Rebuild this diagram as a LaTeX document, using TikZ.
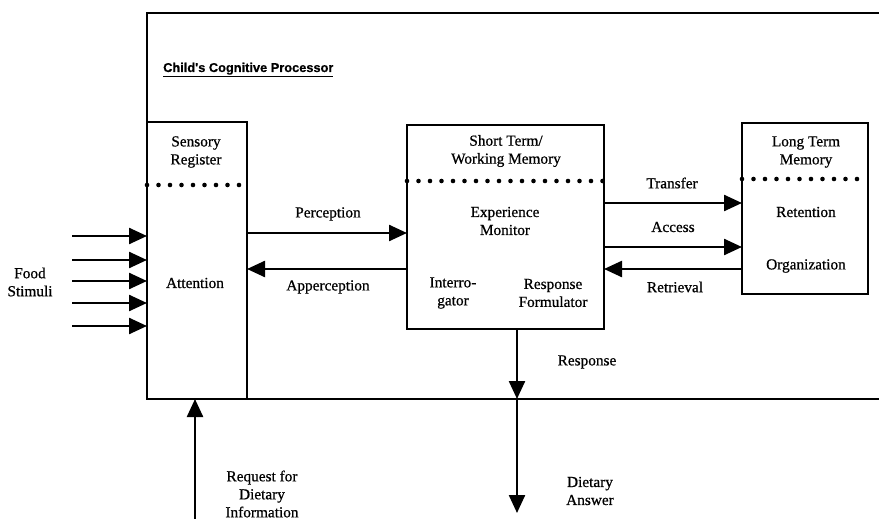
\documentclass[tikz,border=0pt]{standalone}
\usepackage{fontspec}
\setmainfont[FakeBold=0.7]{Liberation Serif}
\newfontfamily\titlefont[FakeBold=0.6]{Liberation Sans}
\usetikzlibrary{arrows.meta}
\begin{document}
\begin{tikzpicture}[x=1pt,y=-1pt,
  line width=2.4pt,
  arr/.style={-{Triangle[length=18pt,width=16pt]}},
  box/.style={draw,rectangle,inner sep=0pt,outer sep=0pt,anchor=north west},
  lbl/.style={font=\fontsize{15.3}{18}\selectfont,align=center,inner sep=0pt},
  dots/.style={line width=4.6pt,line cap=round,dash pattern=on 0pt off 11.5pt}]
\useasboundingbox (0,0) rectangle (879,519);
\clip (0,0) rectangle (879,519);
% outer processor frame (right side off the picture)
\coordinate (otr) at (890,13);
\coordinate (otl) at (147,13);
\coordinate (obl) at (147,399);
\coordinate (obr) at (890,399);
\draw (otr) -- (otl) -- (obl) -- (obr);
\node[anchor=base west,inner sep=0pt,font=\titlefont\bfseries\fontsize{12.8}{15}\selectfont] (title) at (162,72) {\underline{Child's Cognitive Processor}};
% boxes
\node[box,minimum width=100pt,minimum height=277pt] (sr) at (147,122) {};
\node[box,minimum width=197pt,minimum height=204pt] (stm) at (407,125) {};
\node[box,minimum width=126pt,minimum height=171pt] (ltm) at (742,123) {};
% dotted separators
\draw[dots] (sr.west |- 0,185) -- (sr.east |- 0,185);
\draw[dots] (stm.west |- 0,181) -- (stm.east |- 0,181);
\draw[dots] (ltm.west |- 0,179) -- (ltm.east |- 0,179);
% box texts
\node[lbl] (srt) at (196,152) {Sensory\\Register};
\node[lbl] (att) at (195,283) {Attention};
\node[lbl] (stmt) at (506,151) {Short Term/\\Working Memory};
\node[lbl] (exp) at (505,221) {Experience\\Monitor};
\node[lbl] (intg) at (453,293) {Interro-\\gator};
\node[lbl] (resf) at (553,293) {Response\\Formulator};
\node[lbl] (ltmt) at (806,152) {Long Term\\Memory};
\node[lbl] (ret) at (806,212) {Retention};
\node[lbl] (org) at (806,266) {Organization};
% food stimuli
\node[lbl] (food) at (30,282) {Food\\Stimuli};
\foreach \i/\y in {1/236,2/260,3/281,4/303,5/326}{
  \coordinate (f\i) at (72,\y);
  \draw[arr] (f\i) -- (f\i -| sr.west);
}
% perception / apperception
\draw[arr] (sr.east |- 0,233) -- (stm.west |- 0,233);
\draw[arr] (stm.west |- 0,269) -- (sr.east |- 0,269);
\node[lbl] (perc) at (328,214) {Perception};
\node[lbl] (appc) at (328,287) {Apperception};
% transfer / access / retrieval
\draw[arr] (stm.east |- 0,203) -- (ltm.west |- 0,203);
\draw[arr] (stm.east |- 0,247) -- (ltm.west |- 0,247);
\draw[arr] (ltm.west |- 0,269) -- (stm.east |- 0,269);
\node[lbl] (trans) at (672,183) {Transfer};
\node[lbl] (acc) at (673,227) {Access};
\node[lbl] (retr) at (675,287) {Retrieval};
% response
\draw[arr] (stm.south -| 517,0) -- (obl -| 517,0);
\node[lbl] (resp) at (587,362) {Response};
\coordinate (ans) at (517,513);
\draw[arr] (obl -| ans) -- (ans);
\node[lbl] (dans) at (590,491) {Dietary\\Answer};
% request
\coordinate (req) at (195,530);
\draw[arr] (req) -- (obl -| req);
\node[lbl] (reqt) at (262,494) {Request for\\Dietary\\Information};
\end{tikzpicture}
\end{document}
